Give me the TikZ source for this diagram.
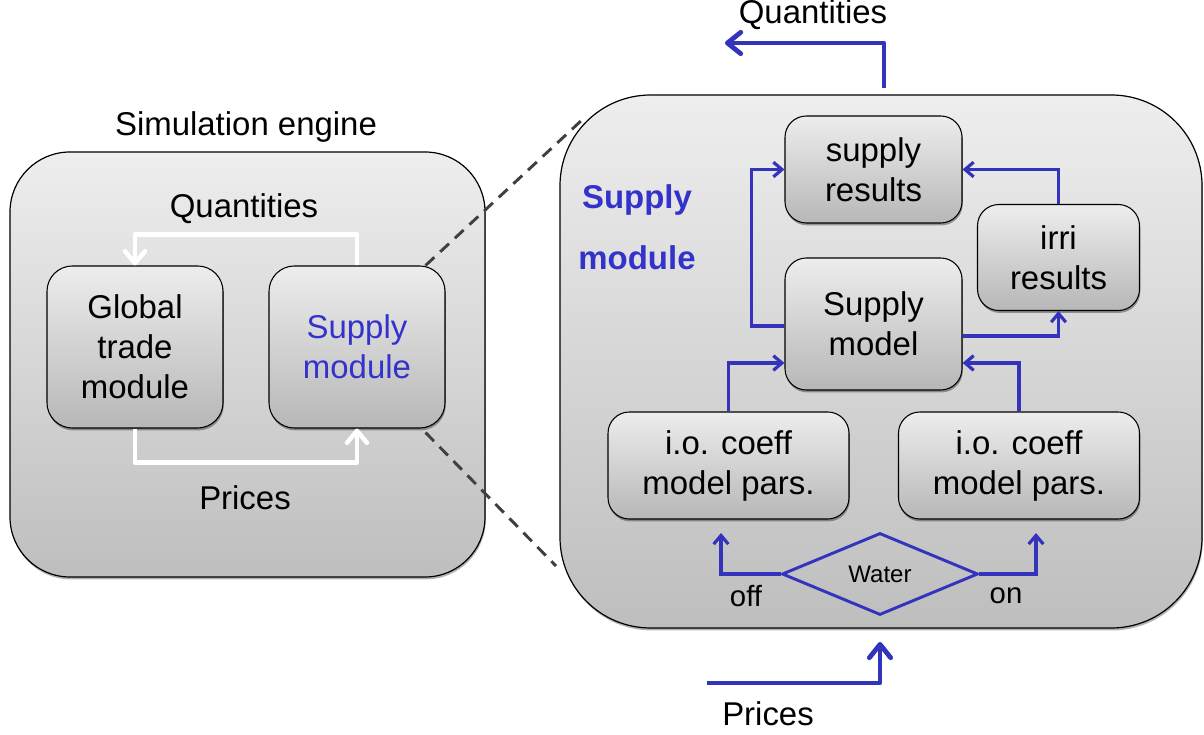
\documentclass[tikz,border=0pt]{standalone}
\usepackage{fontspec}
\setmainfont{Liberation Sans}
\usetikzlibrary{arrows.meta,shadows,calc,shapes.geometric}
\definecolor{myblue}{RGB}{51,51,187}
\definecolor{txtblue}{RGB}{51,51,204}
\definecolor{dashgray}{RGB}{64,64,64}
\definecolor{gtop}{RGB}{238,238,238}
\definecolor{gbot}{RGB}{190,190,190}
\definecolor{btop}{RGB}{237,237,237}
\definecolor{bbot}{RGB}{183,183,183}
\begin{document}
\begin{tikzpicture}[x=0.75pt,y=-0.75pt,
  mainfont/.style={font=\fontsize{24.7}{30}\selectfont},
  bigbox/.style={draw=black, line width=0.9pt, top color=gtop, bottom color=gbot,
     drop shadow={shadow xshift=0.6pt, shadow yshift=-1.8pt, opacity=0.3, fill=black}},
  boxx/.style={draw=black, line width=0.8pt, top color=btop, bottom color=bbot,
     rounded corners=16pt, inner sep=0pt, align=center, mainfont,
     drop shadow={shadow xshift=0.6pt, shadow yshift=-1.8pt, opacity=0.35, fill=black}},
  lbl/.style={mainfont, inner sep=0pt},
  wht/.style={draw=white, line width=3.4pt, line join=round,
     -{Straight Barb[length=9pt, width=15pt, round]}},
  bl/.style={draw=myblue, line width=2.4pt, line join=miter,
     -{Straight Barb[length=6.5pt, width=11pt]}},
  blthick/.style={draw=myblue, line width=3.6pt, line join=round,
     -{Straight Barb[length=10pt, width=16pt, round]}},
  dashline/.style={draw=dashgray, line width=2.2pt, dash pattern=on 9pt off 6pt}
]
\useasboundingbox (0,0) rectangle (1204,735);

% left big box
\node[bigbox, rounded corners=45pt, minimum width=356.25pt, minimum height=318.75pt, inner sep=0pt]
  (lbox) at (247.5,364.5) {};
\node[lbl] (simeng) at (246,127) {Simulation engine};
\node[boxx, minimum width=132pt, minimum height=121.5pt, rounded corners=19pt] (gtm) at (135,347)
  {Global\\trade\\module};
\node[boxx, minimum width=132pt, minimum height=121.5pt, rounded corners=19pt, text=txtblue] (smod) at (357,347)
  {Supply\\module};
\node[lbl] (lq) at (244,209) {Quantities};
\node[lbl] (lp) at (245,498) {Prices};

\draw[wht] (smod.north) -- ++(0,-31) -| (gtm.north);
\draw[wht] (gtm.south) -- ++(0,34) -| (smod.south);

% right big box
\node[bigbox, rounded corners=68pt, minimum width=481.5pt, minimum height=399.75pt, inner sep=0pt]
  (rbox) at (881,361.5) {};

\node[font=\fontsize{24.7}{45.75}\selectfont\bfseries, text=txtblue, align=center, inner sep=0pt]
  (smlabel) at (637,227) {Supply\\module};

\node[boxx, minimum width=132.75pt, minimum height=80.25pt] (sres) at (873.5,169.5) {supply\\results};
\node[boxx, minimum width=121.5pt, minimum height=79.5pt] (irri) at (1058.5,257.5) {irri\\results};
\node[boxx, minimum width=132.75pt, minimum height=99pt] (smodel) at (873.5,324) {Supply\\model};
\node[boxx, minimum width=180.75pt, minimum height=80.25pt] (iol) at (728.5,465.5) {i.o. coeff\\model pars.};
\node[boxx, minimum width=180.75pt, minimum height=80.25pt] (ior) at (1019,465.5) {i.o. coeff\\model pars.};

\node[diamond, draw=myblue, line width=2.2pt, aspect=2.4, minimum width=147pt, minimum height=61.5pt,
  inner sep=0pt, font=\fontsize{18}{20}\selectfont] (water) at (880,574) {Water};

\node[font=\fontsize{22}{24}\selectfont, inner sep=0pt] (off) at (746,596) {off};
\node[font=\fontsize{22}{24}\selectfont, inner sep=0pt] (on) at (1006,596) {on};

\coordinate (offtip) at (721,533);
\coordinate (ontip) at (1036,533);
\draw[bl] (water.west) -| (offtip);
\draw[bl] (water.east) -| (ontip);

\draw[bl] (iol.north) |- ($(smodel.west)+(0,39)$);
\draw[bl] (ior.north) |- ($(smodel.east)+(0,39)$);
\draw[bl] ($(smodel.west)+(0,2)$) -- ++(-33,0) |- (sres.west);
\draw[bl] (irri.north) |- (sres.east);
\draw[bl] ($(smodel.east)+(0,12)$) -| (irri.south);

% outer arrows
\node[lbl] (tq) at (813,15) {Quantities};
\coordinate (qstart) at (884,88);
\coordinate (qtip) at (725,43);
\draw[blthick] (qstart) |- (qtip);

\node[lbl] (bp) at (768,714) {Prices};
\coordinate (pstart) at (707,683);
\coordinate (ptip) at (880,642);
\draw[blthick] (pstart) -| (ptip);

% zoom dashed lines
\coordinate (dtop) at (583,119);
\coordinate (dbot) at (556,566);
\draw[dashline] ($(smod.north east)+(-20,0)$) -- (dtop);
\draw[dashline] ($(smod.south east)+(-20,4)$) -- (dbot);
\end{tikzpicture}
\end{document}
